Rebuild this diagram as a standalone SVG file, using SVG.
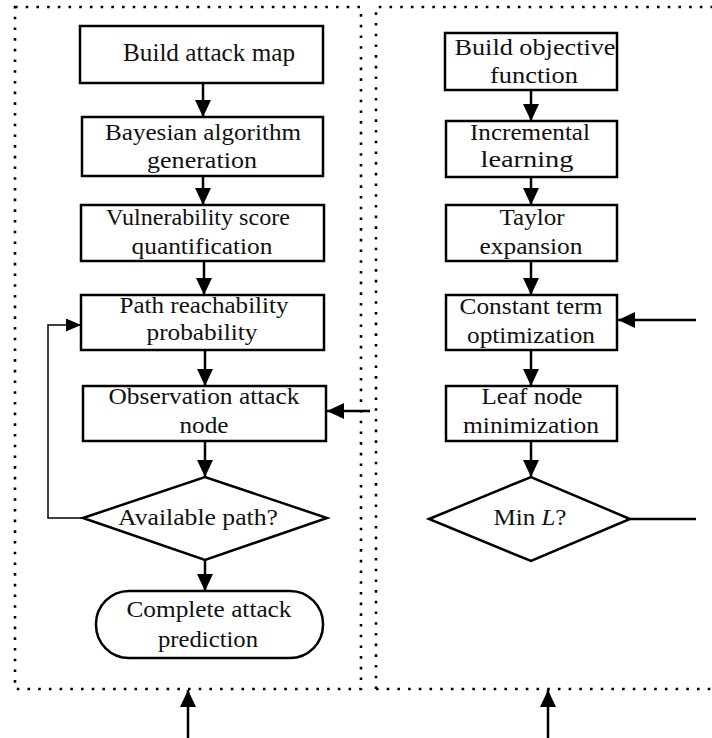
<svg xmlns="http://www.w3.org/2000/svg" width="712" height="738" viewBox="0 0 712 738">
  <style>
    .box { fill: #fff; stroke: #000; stroke-width: 2.5; }
    .frame { fill: none; stroke: #000; stroke-width: 2.6; stroke-dasharray: 2.6 8.1; }
    .link { fill: none; stroke: #000; stroke-width: 2.5; }
    .thin { fill: none; stroke: #000; stroke-width: 1.5; }
    text { font-family: "Liberation Serif", "Times New Roman", serif; font-size: 23px; fill: #111; text-anchor: middle; }
  </style>
  <defs>
    <marker id="head" viewBox="0 0 17 16" refX="17" refY="8" markerWidth="17" markerHeight="16" markerUnits="userSpaceOnUse" orient="auto">
      <path d="M0,0 L17,8 L0,16 z" fill="#000"/>
    </marker>
    <marker id="headSmall" viewBox="0 0 15 13" refX="15" refY="6.5" markerWidth="15" markerHeight="13" markerUnits="userSpaceOnUse" orient="auto">
      <path d="M0,0 L15,6.5 L0,13 z" fill="#000"/>
    </marker>
  </defs>

  <!-- dotted module frames -->
  <g id="frames">
    <path class="frame" d="M15,7 H361 V689 H15 Z"/>
    <path class="frame" d="M376,689 V7 H712 M376,689 H712"/>
  </g>

  <!-- connectors -->
  <g id="connectors">
    <line class="link" x1="203" y1="83" x2="203" y2="117" marker-end="url(#head)"/>
    <line class="link" x1="203" y1="176" x2="203" y2="205" marker-end="url(#head)"/>
    <line class="link" x1="204" y1="261" x2="204" y2="295" marker-end="url(#head)"/>
    <line class="link" x1="205" y1="350" x2="205" y2="386" marker-end="url(#head)"/>
    <line class="link" x1="205" y1="441" x2="205" y2="477" marker-end="url(#head)"/>
    <line class="link" x1="205" y1="560" x2="205" y2="591" marker-end="url(#head)"/>
    <line class="link" x1="370" y1="411" x2="327" y2="411" marker-end="url(#head)"/>
    <polyline class="thin" points="83,518 48,518 48,325 81,325" marker-end="url(#headSmall)"/>
    <line class="link" x1="188" y1="738" x2="188" y2="690" marker-end="url(#head)"/>

    <line class="link" x1="531" y1="90" x2="531" y2="121" marker-end="url(#head)"/>
    <line class="link" x1="531" y1="177" x2="531" y2="205" marker-end="url(#head)"/>
    <line class="link" x1="531" y1="261" x2="531" y2="295" marker-end="url(#head)"/>
    <line class="link" x1="531" y1="350" x2="531" y2="386" marker-end="url(#head)"/>
    <line class="link" x1="531" y1="441" x2="531" y2="477" marker-end="url(#head)"/>
    <line class="link" x1="696" y1="320" x2="618" y2="320" marker-end="url(#head)"/>
    <line class="link" x1="630" y1="519" x2="696" y2="519"/>
    <line class="link" x1="548" y1="738" x2="548" y2="690" marker-end="url(#head)"/>
  </g>

  <!-- attack prediction flow -->
  <g id="build-attack-map">
    <rect class="box" x="80" y="26" width="243" height="57"/>
    <text x="209" y="61" textLength="172" lengthAdjust="spacingAndGlyphs" style="font-size:25px">Build attack map</text>
  </g>
  <g id="bayesian-generation">
    <rect class="box" x="82" y="117" width="241" height="59"/>
    <text x="203" y="140" textLength="196" lengthAdjust="spacingAndGlyphs">Bayesian algorithm</text>
    <text x="202" y="168" textLength="110" lengthAdjust="spacingAndGlyphs">generation</text>
  </g>
  <g id="vulnerability-score">
    <rect class="box" x="81" y="205" width="243" height="56"/>
    <text x="198" y="225" textLength="184" lengthAdjust="spacingAndGlyphs">Vulnerability score</text>
    <text x="202" y="254" textLength="141" lengthAdjust="spacingAndGlyphs">quantification</text>
  </g>
  <g id="path-reachability">
    <rect class="box" x="81" y="295" width="243" height="55"/>
    <text x="204" y="313" textLength="169" lengthAdjust="spacingAndGlyphs">Path reachability</text>
    <text x="202" y="340" textLength="111" lengthAdjust="spacingAndGlyphs">probability</text>
  </g>
  <g id="observation-node">
    <rect class="box" x="83" y="386" width="243" height="55"/>
    <text x="204" y="404" textLength="191" lengthAdjust="spacingAndGlyphs">Observation attack</text>
    <text x="204" y="433" textLength="49" lengthAdjust="spacingAndGlyphs">node</text>
  </g>
  <g id="available-path">
    <polygon class="box" points="83,518 205,477 327,518 205,560"/>
    <text x="198" y="525" textLength="160" lengthAdjust="spacingAndGlyphs">Available path?</text>
  </g>
  <g id="complete-prediction">
    <rect class="box" x="96" y="591" width="227" height="67" rx="33" ry="33"/>
    <text x="209" y="617" textLength="165" lengthAdjust="spacingAndGlyphs">Complete attack</text>
    <text x="208" y="647" textLength="100" lengthAdjust="spacingAndGlyphs">prediction</text>
  </g>

  <!-- objective optimisation flow -->
  <g id="objective-function">
    <rect class="box" x="445" y="33" width="172" height="57"/>
    <text x="535" y="55" textLength="161" lengthAdjust="spacingAndGlyphs">Build objective</text>
    <text x="534" y="83" textLength="88" lengthAdjust="spacingAndGlyphs">function</text>
  </g>
  <g id="incremental-learning">
    <rect class="box" x="446" y="121" width="171" height="56"/>
    <text x="530" y="140" textLength="120" lengthAdjust="spacingAndGlyphs">Incremental</text>
    <text x="527" y="167" textLength="93" lengthAdjust="spacingAndGlyphs">learning</text>
  </g>
  <g id="taylor-expansion">
    <rect class="box" x="446" y="205" width="171" height="56"/>
    <text x="532" y="225" textLength="65" lengthAdjust="spacingAndGlyphs">Taylor</text>
    <text x="531" y="254" textLength="103" lengthAdjust="spacingAndGlyphs">expansion</text>
  </g>
  <g id="constant-term">
    <rect class="box" x="446" y="295" width="171" height="55"/>
    <text x="531" y="314" textLength="143" lengthAdjust="spacingAndGlyphs">Constant term</text>
    <text x="531" y="343" textLength="128" lengthAdjust="spacingAndGlyphs">optimization</text>
  </g>
  <g id="leaf-node">
    <rect class="box" x="446" y="386" width="171" height="55"/>
    <text x="532" y="404" textLength="101" lengthAdjust="spacingAndGlyphs">Leaf node</text>
    <text x="531" y="433" textLength="136" lengthAdjust="spacingAndGlyphs">minimization</text>
  </g>
  <g id="min-l">
    <polygon class="box" points="429,519 531,477 630,519 531,561"/>
    <text x="530" y="525" textLength="73" lengthAdjust="spacingAndGlyphs">Min <tspan font-style="italic">L</tspan>?</text>
  </g>
</svg>
